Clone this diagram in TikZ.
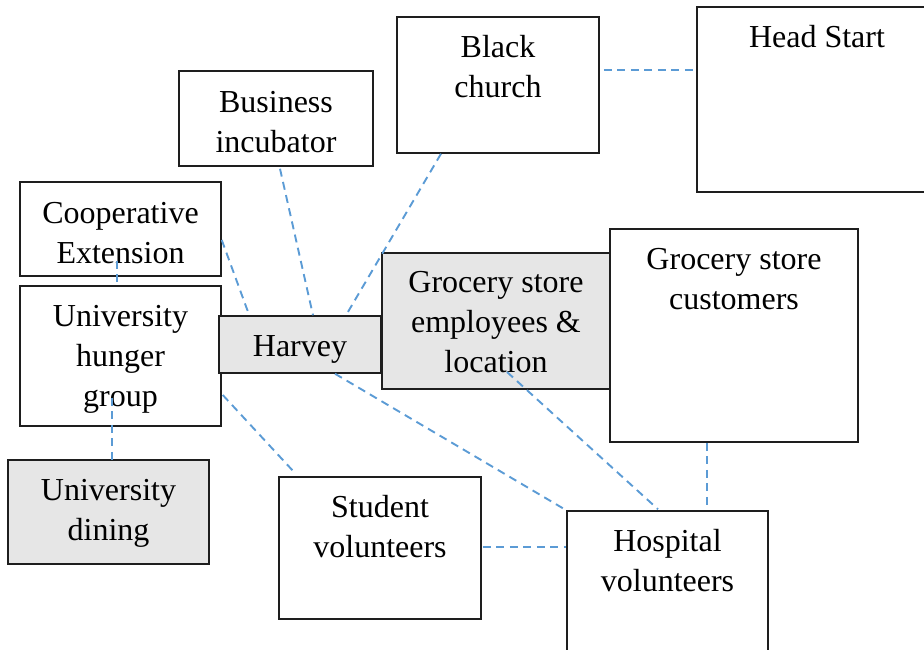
\documentclass[tikz,border=0pt]{standalone}
\usepackage{fontspec}
\setmainfont{Liberation Serif}
\usetikzlibrary{calc, positioning}
\definecolor{linkblue}{RGB}{91, 155, 213}
\definecolor{boxgray}{RGB}{230, 230, 230}
\definecolor{edge}{RGB}{30, 30, 30}

\begin{document}
\begin{tikzpicture}[x=1pt, y=-1pt,
    font=\fontsize{32}{40}\selectfont,
    box/.style={draw=edge, line width=1.5pt, fill=white, inner sep=0pt},
    shaded/.style={box, fill=boxgray},
    txt/.style={align=center, anchor=base, inner sep=0pt},
    link/.style={draw=linkblue, line width=1.9pt, dash pattern=on 8pt off 5.5pt}]
    \useasboundingbox (0,0) rectangle (924,650);

    % Left column
    \node[box, minimum width=201, minimum height=94] (coop) at (120.5,229) {};
    \node[box, minimum width=201, minimum height=140] (hunger) at (120.5,356) {};
    \node[shaded, minimum width=201, minimum height=104] (dining) at (108.5,512) {};
    % Top row
    \node[box, minimum width=194, minimum height=95] (incub) at (276,118.5) {};
    \node[box, minimum width=202, minimum height=136] (church) at (498,85) {};
    \node[box, minimum width=240, minimum height=185] (headstart) at (817,99.5) {};
    % Middle
    \node[shaded, minimum width=162, minimum height=57] (harvey) at (300,344.5) {};
    \node[shaded, minimum width=228, minimum height=136] (grocery) at (496,321) {};
    \node[box, minimum width=248, minimum height=213] (customers) at (734,335.5) {};
    % Bottom row
    \node[box, minimum width=202, minimum height=142] (student) at (380,548) {};
    \node[box, minimum width=201, minimum height=149] (hospital) at (667.5,585.5) {};

    % Labels: base sits on the last line, 40 per line below the top edge
    \node[txt] (coop-t) at ($(coop.north)+(0,82)$) {Cooperative\\Extension};
    \node[txt] (hunger-t) at ($(hunger.north)+(0,121)$) {University\\hunger\\group};
    \node[txt] (dining-t) at ($(dining.north)+(0,81)$) {University\\dining};
    \node[txt] (incub-t) at ($(incub.north)+(0,82)$) {Business\\incubator};
    \node[txt] (church-t) at ($(church.north)+(0,81)$) {Black\\church};
    \node[txt] (headstart-t) at ($(headstart.north)+(0,41)$) {Head Start};
    \node[txt] (harvey-t) at ($(harvey.north)+(0,41)$) {Harvey};
    \node[txt] (grocery-t) at ($(grocery.north)+(0,120)$) {Grocery store\\employees \&\\location};
    \node[txt] (customers-t) at ($(customers.north)+(0,81)$) {Grocery store\\customers};
    \node[txt] (student-t) at ($(student.north)+(0,81)$) {Student\\volunteers};
    \node[txt] (hospital-t) at ($(hospital.north)+(0,81)$) {Hospital\\volunteers};

    % Ties
    \draw[link] ($(coop.south)+(-3.5,-16)$) -- ($(hunger.north)+(-3.5,-2)$);
    \draw[link] ($(hunger.south)+(-8.5,-29)$) -- ($(dining.north)+(3.5,5)$);
    \draw[link] ($(coop.east)+(0,11)$) -- ($(harvey.north west)+(31,0)$);
    \draw[link] ($(incub.south)+(4,2)$) -- ($(harvey.north)+(13,0)$);
    \draw[link] ($(church.south)+(-57,0)$) -- ($(harvey.north)+(46,0)$);
    \draw[link] ($(church.east)+(4,-15)$) -- ($(headstart.west)+(0,-29.5)$);
    \draw[link] ($(hunger.east)+(1,39)$) -- ($(student.north west)+(16,-4)$);
    \draw[link] ($(harvey.south)+(35,0)$) -- (hospital.north west);
    \draw[link] ($(grocery.center)+(11,51)$) -- ($(hospital.north)+(-9.5,-1)$);
    \draw[link] ($(customers.south)+(-27,0)$) -- ($(hospital.north)+(39.5,-5)$);
    \draw[link] ($(student.east)+(1,-1)$) -- ($(student.east -| hospital.west)+(0,-1)$);
\end{tikzpicture}
\end{document}
